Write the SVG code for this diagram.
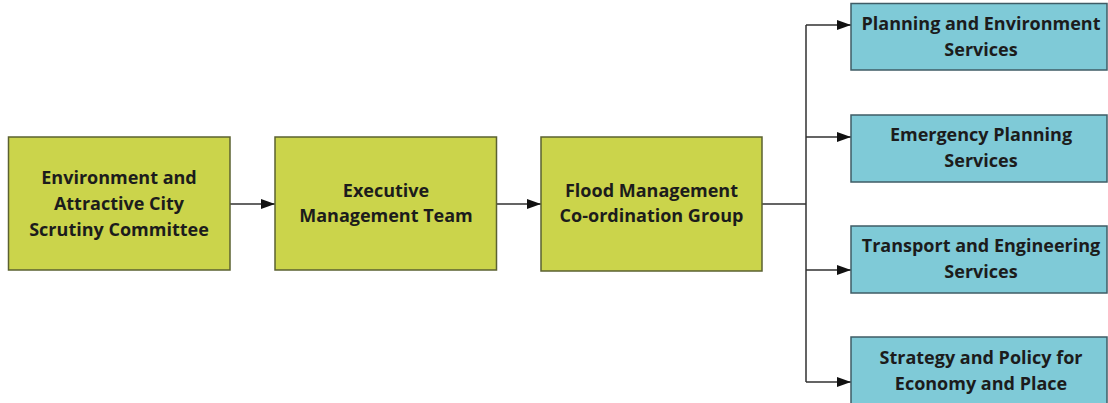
<svg xmlns="http://www.w3.org/2000/svg" width="1108" height="403" viewBox="0 0 1108 403">
<style>
.g{fill:#cbd44b;stroke:#5b6130;stroke-width:1.5}
.b{fill:#7fcad7;stroke:#3f5c66;stroke-width:1.5}
.t{font-family:"Open Sans","Noto Sans",sans-serif;font-weight:bold;font-size:18px;fill:#1c1c1c;text-anchor:middle}
.c{fill:none;stroke:#303030;stroke-width:1.5}
</style>
<defs>
<marker id="ah" markerWidth="14" markerHeight="10" refX="14" refY="5" orient="auto" markerUnits="userSpaceOnUse">
<path d="M0,0 L14,5 L0,10 Z" fill="#111"/>
</marker>
</defs>
<rect width="1108" height="403" fill="#fff"/>
<g id="connectors">
<line class="c" x1="230" y1="204" x2="275" y2="204" marker-end="url(#ah)"/>
<line class="c" x1="497" y1="204" x2="541" y2="204" marker-end="url(#ah)"/>
<line class="c" x1="762" y1="204" x2="806" y2="204"/>
<line class="c" x1="806" y1="25" x2="806" y2="382"/>
<line class="c" x1="806" y1="25" x2="851" y2="25" marker-end="url(#ah)"/>
<line class="c" x1="806" y1="137" x2="851" y2="137" marker-end="url(#ah)"/>
<line class="c" x1="806" y1="270" x2="851" y2="270" marker-end="url(#ah)"/>
<line class="c" x1="806" y1="382" x2="851" y2="382" marker-end="url(#ah)"/>
</g>
<g id="n1"><rect class="g" x="8.5" y="137" width="221.5" height="133"/>
<text class="t" x="119" y="184">Environment and</text>
<text class="t" x="119" y="210">Attractive City</text>
<text class="t" x="119" y="236">Scrutiny Committee</text></g>
<g id="n2"><rect class="g" x="275" y="137" width="221.5" height="133"/>
<text class="t" x="386" y="197">Executive</text>
<text class="t" x="386" y="222">Management Team</text></g>
<g id="n3"><rect class="g" x="541" y="137" width="221" height="134"/>
<text class="t" x="651.5" y="197">Flood Management</text>
<text class="t" x="651.5" y="222">Co-ordination Group</text></g>
<g id="n4"><rect class="b" x="851" y="3.5" width="256" height="66.5"/>
<text class="t" x="981" y="30">Planning and Environment</text>
<text class="t" x="981" y="56">Services</text></g>
<g id="n5"><rect class="b" x="851" y="115" width="256" height="67"/>
<text class="t" x="981" y="141">Emergency Planning</text>
<text class="t" x="981" y="167">Services</text></g>
<g id="n6"><rect class="b" x="851" y="226" width="256" height="67"/>
<text class="t" x="981" y="252">Transport and Engineering</text>
<text class="t" x="981" y="278">Services</text></g>
<g id="n7"><rect class="b" x="851" y="337" width="256" height="70"/>
<text class="t" x="981" y="364">Strategy and Policy for</text>
<text class="t" x="981" y="390">Economy and Place</text></g>
</svg>
